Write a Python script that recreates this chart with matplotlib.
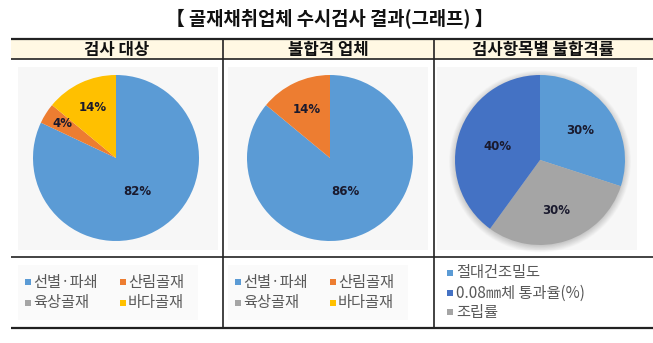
import numpy as np
import matplotlib
matplotlib.use("Agg")
import matplotlib.pyplot as plt
from matplotlib.patches import Rectangle, Circle

plt.rcParams['font.family'] = ['Noto Sans CJK KR', 'DejaVu Sans']

# ---- data ----
title = "【 골재채취업체 수시검사 결과(그래프) 】"
headers = ["검사 대상", "불합격 업체", "검사항목별 불합격률"]

target_labels = ["선별·파쇄", "산림골재", "육상골재", "바다골재"]
target_values = [82, 4, 0, 14]

fail_labels = ["선별·파쇄", "산림골재", "육상골재", "바다골재"]
fail_values = [86, 14, 0, 0]

item_labels = ["절대건조밀도", "0.08㎜체 통과율(%)", "조립률"]
item_values = [30, 40, 30]
item_draw_order = [0, 2, 1]   # wedges go clockwise: 절대건조밀도, 조립률, 0.08㎜체

c_blue, c_orange, c_gray, c_yellow, c_dblue = "#5B9BD5", "#ED7D31", "#A5A5A5", "#FFC000", "#4472C4"
source_colors = [c_blue, c_orange, c_gray, c_yellow]
item_colors = [c_blue, c_dblue, c_gray]

W, H = 653, 343
fig = plt.figure(figsize=(W / 100, H / 100), dpi=100)
ax = fig.add_axes([0, 0, 1, 1])
ax.set_xlim(0, W)
ax.set_ylim(0, H)
ax.axis("off")


def Y(y):
    return H - y


# title
ax.text(330, Y(18), title, ha="center", va="center", fontsize=13.5, fontweight="bold", color="#111111")

# table frame
x0, x1 = 11, 653
cols = [11, 223, 434, 653]
ax.add_patch(Rectangle((x0, Y(59)), x1 - x0, 20, fc="#FFF8E3", ec="none", zorder=0))
for y, lw in [(39, 1.6), (59, 1.2), (257, 1.2), (328, 1.6)]:
    ax.plot([x0, x1], [Y(y), Y(y)], color="#222222", lw=lw, solid_capstyle="butt")
for x in cols[1:3]:
    ax.plot([x, x], [Y(39), Y(328)], color="#222222", lw=1.2)
for i, h in enumerate(headers):
    ax.text((cols[i] + cols[i + 1]) / 2, Y(49.5), h, ha="center", va="center",
            fontsize=12, fontweight="bold", color="#111111")

# chart plot-area backgrounds
for bx in (18, 228, 437):
    ax.add_patch(Rectangle((bx, Y(250)), 200, 183, fc="#F7F7F7", ec="none", zorder=0.5))


def draw_pie(values, colors, center, radius, label_dist, shadow=False):
    cx, cy = center
    if shadow:
        for k in range(12):
            ax.add_patch(Circle((cx, Y(cy) - 1.5), radius + 6 - k * 0.6, fc="#000000",
                                alpha=0.015, ec="none", zorder=1))
    wedges, _, autotexts = ax.pie(values, colors=colors, startangle=90, counterclock=False,
                                  center=(cx, Y(cy)), radius=radius, frame=True,
                                  autopct=lambda p: f"{p:.0f}%" if p > 0.5 else "",
                                  wedgeprops=dict(linewidth=0, zorder=2),
                                  textprops=dict(fontsize=8.5, fontweight="bold",
                                                 color="#1A1A2E", family="DejaVu Sans"))
    for w, t, d in zip(wedges, autotexts, label_dist):
        ang = np.deg2rad((w.theta1 + w.theta2) / 2)
        t.set_position((cx + d * radius * np.cos(ang), Y(cy) + d * radius * np.sin(ang)))
        t.set_zorder(3)


draw_pie(target_values, source_colors, (116, 158), 83, [0.48, 0.77, 0.6, 0.67])
draw_pie(fail_values, source_colors, (330, 158), 83, [0.44, 0.65, 0.6, 0.6])
draw_pie([item_values[i] for i in item_draw_order], [item_colors[i] for i in item_draw_order],
         (540, 160), 85, [0.59, 0.62, 0.53], shadow=True)

ax.set_xlim(0, W)
ax.set_ylim(0, H)
ax.set_aspect("auto")
ax.axis("off")

# legends
txt_kw = dict(fontsize=11, color="#595959", va="center", ha="left")
for lx in (18, 228):
    ax.add_patch(Rectangle((lx, Y(320)), 180, 55, fc="#FAFAFA", ec="none", zorder=0.5))
    pos = [(28, 282), (123, 282), (28, 303), (123, 303)]
    for (px, py), lab, col in zip(pos, target_labels, source_colors):
        ax.add_patch(Rectangle((lx - 18 + px - 3, Y(py) - 3), 6, 6, fc=col, ec="none", zorder=3))
        ax.text(lx - 18 + px + 5, Y(py), lab, **txt_kw)

for (py, lab, col) in zip([273, 293, 312], item_labels, item_colors):
    ax.add_patch(Rectangle((450 - 3, Y(py) - 3), 6, 6, fc=col, ec="none", zorder=3))
    ax.text(456, Y(py), lab, **txt_kw)

fig.savefig("out.png", dpi=100)
